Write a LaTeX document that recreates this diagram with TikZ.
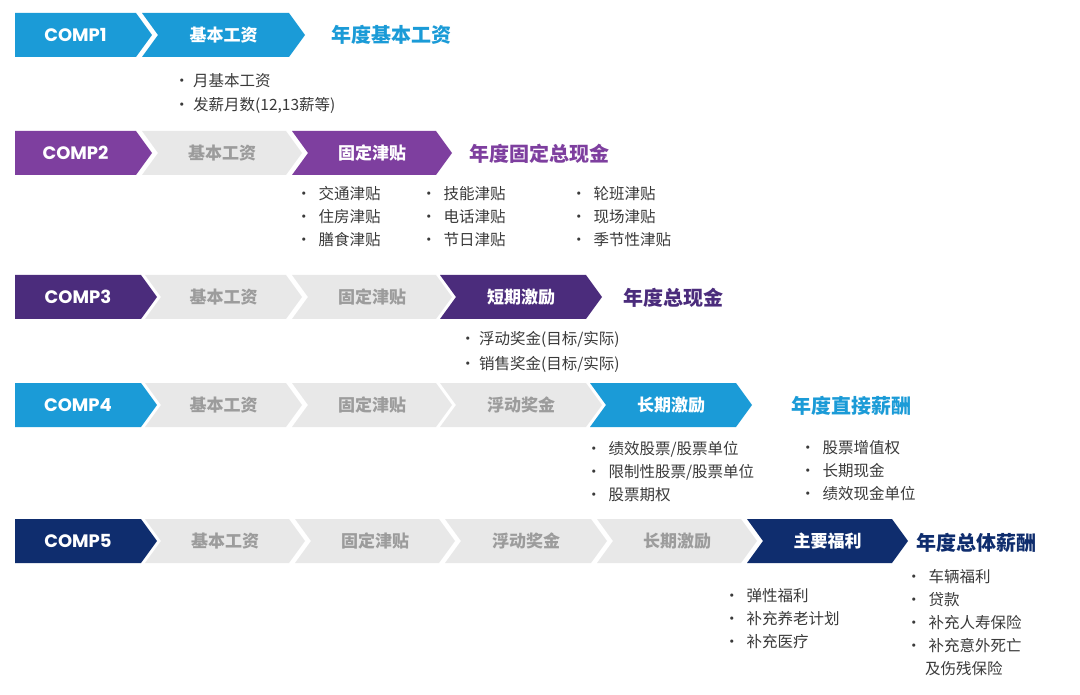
\documentclass[tikz,border=0pt]{standalone}
\usepackage{fontspec}
\setmainfont{Noto Sans CJK SC}
\newfontfamily\compfont{Poppins}
\definecolor{ccyan}{HTML}{1B9BD7}
\definecolor{cpurple}{HTML}{7E3F9F}
\definecolor{cdpurple}{HTML}{4B2C7C}
\definecolor{cnavy}{HTML}{0F2D6E}
\definecolor{cgray}{HTML}{E8E8E8}
\definecolor{cgtext}{HTML}{9C9C9C}
\definecolor{ctext}{HTML}{3A3A3A}
\newcommand\chevfirst[5]{% x1,x2,ytop,color,label
  \fill[#4] (#1,#3) -- (#2-16,#3) -- (#2,#3+22) -- (#2-16,#3+44) -- (#1,#3+44) -- cycle;
  \node[complab] (c#5) at ({(#1+#2-16)/2},#3+22) {#5};}
\newcommand\chev[6]{% x1,x2,ytop,fill,textcolor,label
  \fill[#4] (#1,#3) -- (#2-16,#3) -- (#2,#3+22) -- (#2-16,#3+44) -- (#1,#3+44) -- (#1+16,#3+22) -- cycle;
  \node[chevlab,text=#5] at ({(#1+#2)/2},#3+22) {#6};}
\begin{document}
\begin{tikzpicture}[x=1pt,y=-1pt,
  complab/.style={font=\compfont\bfseries\fontsize{18}{18}\selectfont,text=white},
  chevlab/.style={font=\bfseries\fontsize{17}{17}\selectfont},
  ttl/.style={font=\bfseries\fontsize{20}{20}\selectfont,anchor=west},
  bul/.style={font=\fontsize{15.5}{15.5}\selectfont,text=ctext,anchor=west,inner sep=0pt}]
\useasboundingbox[fill=white] (0,0) rectangle (1080,695);
% Row 1
\chevfirst{15}{152}{13}{ccyan}{COMP1}
\chev{142}{305}{13}{ccyan}{white}{基本工资}
\node[ttl,text=ccyan] (t1) at (328,35) {年度基本工资};
\node[bul] (b11) at (174,81) {· 月基本工资};
\node[bul] (b12) at (174,105) {· 发薪月数(12,13薪等)};
% Row 2
\chevfirst{15}{152}{131}{cpurple}{COMP2}
\chev{142}{302}{131}{cgray}{cgtext}{基本工资}
\chev{292}{452}{131}{cpurple}{white}{固定津贴}
\node[ttl,text=cpurple] (t2) at (466,154) {年度固定总现金};
\node[bul] (b21) at (296,194) {· \ 交通津贴};
\node[bul] (b22) at (296,217) {· \ 住房津贴};
\node[bul] (b23) at (296,240) {· \ 膳食津贴};
\node[bul] (b24) at (421,194) {· \ 技能津贴};
\node[bul] (b25) at (421,217) {· \ 电话津贴};
\node[bul] (b26) at (421,240) {· \ 节日津贴};
\node[bul] (b27) at (571,194) {· \ 轮班津贴};
\node[bul] (b28) at (571,217) {· \ 现场津贴};
\node[bul] (b29) at (571,240) {· \ 季节性津贴};
% Row 3
\chevfirst{15}{157}{275}{cdpurple}{COMP3}
\chev{145}{302}{275}{cgray}{cgtext}{基本工资}
\chev{292}{452}{275}{cgray}{cgtext}{固定津贴}
\chev{440}{602}{275}{cdpurple}{white}{短期激励}
\node[ttl,text=cdpurple] (t3) at (620,298) {年度总现金};
\node[bul] (b31) at (460,339) {· 浮动奖金(目标/实际)};
\node[bul] (b32) at (460,364) {· 销售奖金(目标/实际)};
% Row 4
\chevfirst{15}{157}{383}{ccyan}{COMP4}
\chev{145}{302}{383}{cgray}{cgtext}{基本工资}
\chev{292}{452}{383}{cgray}{cgtext}{固定津贴}
\chev{440}{602}{383}{cgray}{cgtext}{浮动奖金}
\chev{590}{752}{383}{ccyan}{white}{长期激励}
\node[ttl,text=ccyan] (t4) at (788,406) {年度直接薪酬};
\node[bul] (b41) at (586,449) {· \ 绩效股票/股票单位};
\node[bul] (b42) at (586,472) {· \ 限制性股票/股票单位};
\node[bul] (b43) at (586,495) {· \ 股票期权};
\node[bul] (b44) at (800,448) {· \ 股票增值权};
\node[bul] (b45) at (800,471) {· \ 长期现金};
\node[bul] (b46) at (800,494) {· \ 绩效现金单位};
% Row 5
\chevfirst{15}{157}{519}{cnavy}{COMP5}
\chev{145}{305}{519}{cgray}{cgtext}{基本工资}
\chev{295}{455}{519}{cgray}{cgtext}{固定津贴}
\chev{445}{607}{519}{cgray}{cgtext}{浮动奖金}
\chev{597}{757}{519}{cgray}{cgtext}{长期激励}
\chev{747}{908}{519}{cnavy}{white}{主要福利}
\node[ttl,text=cnavy] (t5) at (913,543) {年度总体薪酬};
\node[bul] (b51) at (724,596) {· \ 弹性福利};
\node[bul] (b52) at (724,619) {· \ 补充养老计划};
\node[bul] (b53) at (724,642) {· \ 补充医疗};
\node[bul] (b54) at (906,577) {· \ 车辆福利};
\node[bul] (b55) at (906,600) {· \ 贷款};
\node[bul] (b56) at (906,623) {· \ 补充人寿保险};
\node[bul] (b57) at (906,646) {· \ 补充意外死亡};
\node[bul] (b58) at (925,669) {及伤残保险};
\end{tikzpicture}
\end{document}
